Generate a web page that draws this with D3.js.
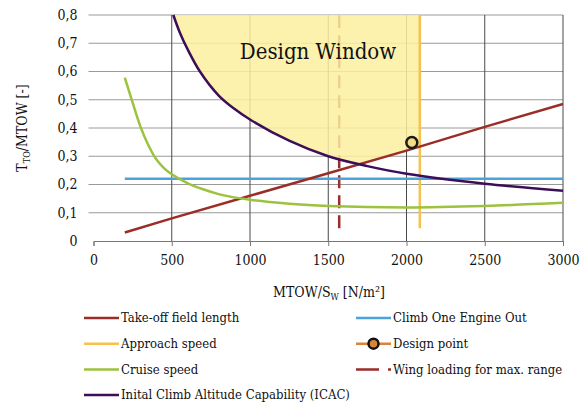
<!DOCTYPE html>
<html>
<head>
<meta charset="utf-8">
<script src="https://cdn.jsdelivr.net/npm/d3@7"></script>
<style>
  body { margin: 0; background: #fff; }
  text { font-family: "DejaVu Serif Condensed", "DejaVu Serif", serif; font-stretch: condensed; fill: #111; }
</style>
</head>
<body>
<div id="chart"></div>
<script>
// data
var takeoffX = [200, 500, 1000, 1500, 2000, 2500, 3000];
var takeoffY = [0.03, 0.08, 0.16, 0.24, 0.32, 0.404, 0.485];

var climbX = [200, 3000];
var climbY = [0.22, 0.22];

var approachX = [2085, 2085];
var approachY = [0.045, 0.8];

var wingX = [1570, 1570];
var wingY = [0.045, 0.8];

var cruiseX = [200, 250, 300, 350, 400, 450, 500, 600, 700, 800, 1000, 1250, 1500, 2000, 2500, 3000];
var cruiseY = [0.578, 0.49, 0.405, 0.34, 0.29, 0.258, 0.236, 0.205, 0.183, 0.166, 0.146, 0.132, 0.124, 0.119, 0.124, 0.135];

var icacX = [510, 550, 600, 680, 800, 900, 1000, 1250, 1500, 1750, 2000, 2500, 3000];
var icacY = [0.8, 0.74, 0.68, 0.6, 0.515, 0.468, 0.43, 0.355, 0.3, 0.265, 0.238, 0.203, 0.178];

var designX = [2034];
var designY = [0.349];

var xTicks = [0, 500, 1000, 1500, 2000, 2500, 3000];
var yTicks = [0, 0.1, 0.2, 0.3, 0.4, 0.5, 0.6, 0.7, 0.8];

var legendLabels = ['Take-off field length', 'Climb One Engine Out', 'Approach speed', 'Design point',
                    'Cruise speed', 'Wing loading for max. range', 'Inital Climb Altitude Capability (ICAC)'];

var c_takeoff = '#9b2d28';
var c_climb = '#4ba3dc';
var c_approach = '#f7c24c';
var c_cruise = '#9dc23e';
var c_icac = '#3e0d59';
var c_design = '#d9843a';
var c_window = '#fcf0a0';

function zip(xs, ys) { return xs.map(function(x, i) { return [x, ys[i]]; }); }

var svgwidth = 587;
var svgheight = 406;

var svg = d3.select('#chart').append('svg')
    .attr('width', svgwidth)
    .attr('height', svgheight);

var xscale = d3.scaleLinear().domain([0, 3000]).range([93.5, 563]);
var yscale = d3.scaleLinear().domain([0, 0.8]).range([241, 15]);

// grid
var grid = svg.append('g');
grid.selectAll('.hgrid')
    .data(yTicks.slice(1))
    .enter().append('line')
    .attr('x1', xscale(0) - 5).attr('x2', xscale(3000))
    .attr('y1', d => yscale(d)).attr('y2', d => yscale(d))
    .attr('stroke', '#9a9a9a').attr('stroke-width', 1);

grid.selectAll('.vgrid')
    .data(xTicks.slice(1))
    .enter().append('line')
    .attr('x1', d => xscale(d)).attr('x2', d => xscale(d))
    .attr('y1', yscale(0.8)).attr('y2', yscale(0))
    .attr('stroke', '#4a4a4a').attr('stroke-width', 1);

// x axis
var xaxis = d3.axisBottom(xscale).tickValues(xTicks).tickSize(5).tickPadding(9)
    .tickFormat(d3.format('d'));
svg.append('g')
    .attr('transform', 'translate(0,' + yscale(0) + ')')
    .call(xaxis)
    .call(g => g.select('.domain').attr('stroke', '#777'))
    .call(g => g.selectAll('.tick line').attr('stroke', '#777'))
    .call(g => g.selectAll('text').attr('font-size', 14).attr('fill', '#111'));

// y axis labels (no axis line)
var yaxis = d3.axisLeft(yscale).tickValues(yTicks).tickSize(0).tickPadding(16)
    .tickFormat(d => d === 0 ? '0' : d.toFixed(1).replace('.', ','));
svg.append('g')
    .attr('transform', 'translate(' + xscale(0) + ',0)')
    .call(yaxis)
    .call(g => g.select('.domain').remove())
    .call(g => g.selectAll('text').attr('font-size', 14).attr('fill', '#111'));

var line = d3.line().x(d => xscale(d[0])).y(d => yscale(d[1]));
var smooth = d3.curveCatmullRom.alpha(0.5);
var curvy = d3.line().x(d => xscale(d[0])).y(d => yscale(d[1])).curve(smooth);

// wing loading for max range (under the window fill)
svg.append('path')
    .attr('d', line(zip(wingX, wingY)))
    .attr('fill', 'none').attr('stroke', c_takeoff).attr('stroke-width', 2.5)
    .attr('stroke-dasharray', '13,7');

// design window: above ICAC and above take-off, left of approach speed
var defs = svg.append('defs');
defs.append('clipPath').attr('id', 'above_icac')
    .append('path')
    .attr('d', d3.area().x(d => xscale(d[0])).y0(d => yscale(d[1])).y1(yscale(0.8))
        .curve(smooth)(zip(icacX, icacY)));
defs.append('clipPath').attr('id', 'above_to')
    .append('path')
    .attr('d', d3.area().x(d => xscale(d[0])).y0(d => yscale(d[1])).y1(yscale(0.8))(zip(takeoffX, takeoffY)));

svg.append('g').attr('clip-path', 'url(#above_icac)')
    .append('g').attr('clip-path', 'url(#above_to)')
    .append('rect')
    .attr('x', xscale(0)).attr('y', yscale(0.8))
    .attr('width', xscale(approachX[0]) - xscale(0))
    .attr('height', yscale(0) - yscale(0.8))
    .attr('fill', c_window).attr('opacity', 0.85);

svg.append('text')
    .attr('x', 318).attr('y', 59)
    .attr('text-anchor', 'middle')
    .attr('font-size', 22)
    .text('Design Window');

// lines
svg.append('path').attr('d', line(zip(approachX, approachY)))
    .attr('fill', 'none').attr('stroke', c_approach).attr('stroke-width', 2.5);
svg.append('path').attr('d', line(zip(climbX, climbY)))
    .attr('fill', 'none').attr('stroke', c_climb).attr('stroke-width', 2.5);
svg.append('path').attr('d', line(zip(takeoffX, takeoffY)))
    .attr('fill', 'none').attr('stroke', c_takeoff).attr('stroke-width', 2.5);
svg.append('path').attr('d', curvy(zip(cruiseX, cruiseY)))
    .attr('fill', 'none').attr('stroke', c_cruise).attr('stroke-width', 2.5);
svg.append('path').attr('d', curvy(zip(icacX, icacY)))
    .attr('fill', 'none').attr('stroke', c_icac).attr('stroke-width', 2.5);

svg.selectAll('.design')
    .data(zip(designX, designY))
    .enter().append('circle')
    .attr('cx', d => xscale(d[0])).attr('cy', d => yscale(d[1]))
    .attr('r', 5.5)
    .attr('fill', '#f6dc82').attr('stroke', '#1a1a1a').attr('stroke-width', 2.5);

// axis titles
var xt = svg.append('text')
    .attr('x', 329).attr('y', 297)
    .attr('text-anchor', 'middle')
    .attr('font-size', 14);
xt.append('tspan').text('MTOW/S');
xt.append('tspan').attr('font-size', 9).attr('dy', 3).text('W');
xt.append('tspan').attr('dy', -3).text(' [N/m²]');

var yt = svg.append('text')
    .attr('transform', 'translate(27,128) rotate(-90)')
    .attr('text-anchor', 'middle')
    .attr('font-size', 14);
yt.append('tspan').text('T');
yt.append('tspan').attr('font-size', 9).attr('dy', 3).text('TO');
yt.append('tspan').attr('dy', -3).text('/MTOW [-]');

// legend
var legendColors = [c_takeoff, c_climb, c_approach, c_design, c_cruise, c_takeoff, c_icac];
var legend = svg.append('g');
var items = legend.selectAll('.item')
    .data(legendLabels)
    .enter().append('g')
    .attr('transform', function(d, i) {
        var col = i % 2, row = Math.floor(i / 2);
        return 'translate(' + (col === 0 ? 84 : 356) + ',' + (318 + row * 25.7) + ')';
    });

items.append('line')
    .attr('x1', 0).attr('x2', 35).attr('y1', 0).attr('y2', 0)
    .attr('stroke', (d, i) => legendColors[i])
    .attr('stroke-width', 2.5)
    .attr('stroke-dasharray', (d, i) => i === 5 ? '23,9' : null);

items.filter((d, i) => i === 3).append('circle')
    .attr('cx', 17.5).attr('cy', 0).attr('r', 5)
    .attr('fill', c_design).attr('stroke', '#111').attr('stroke-width', 2.5);

items.append('text')
    .attr('x', 37).attr('y', 0).attr('dy', '0.33em')
    .attr('font-size', 13)
    .text(d => d);
</script>
</body>
</html>
